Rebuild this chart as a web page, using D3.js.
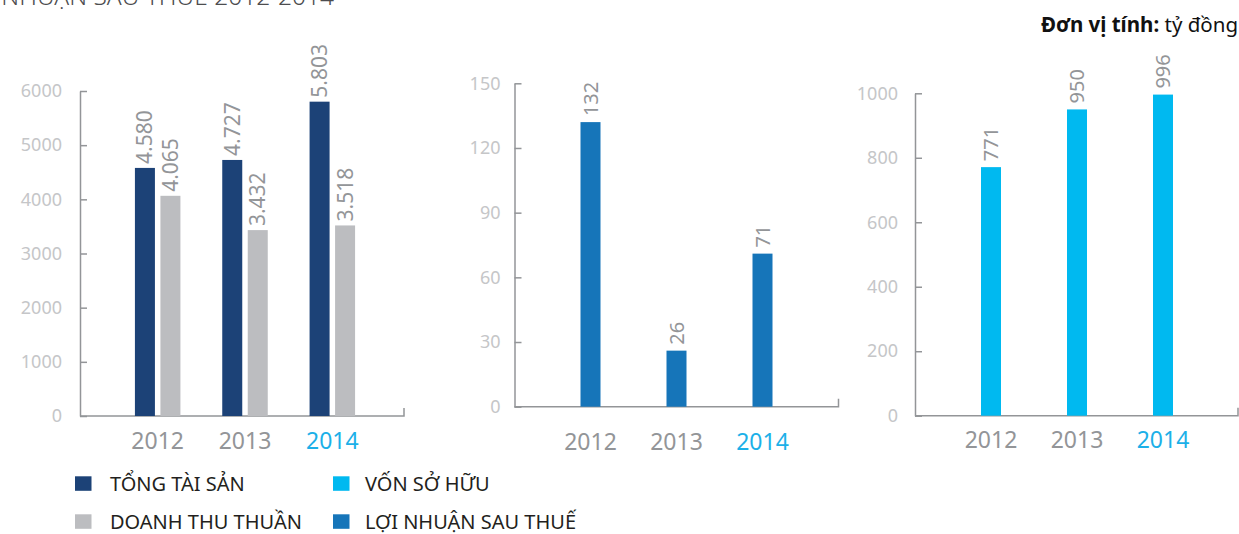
<!DOCTYPE html>
<html>
<head>
<meta charset="utf-8">
<script src="https://cdn.jsdelivr.net/npm/d3@7"></script>
<style>
  html, body { margin: 0; padding: 0; background: #fff; }
  svg { display: block; }
</style>
</head>
<body>
<svg id="chart" width="1239" height="534"></svg>
<script>
// ---- data ----
const years = ["2012", "2013", "2014"];
const totalAssets = [4580, 4727, 5803];      // TỔNG TÀI SẢN
const netRevenue = [4065, 3432, 3518];       // DOANH THU THUẦN
const profitAfterTax = [132, 26, 71];        // LỢI NHUẬN SAU THUẾ
const equity = [771, 950, 996];              // VỐN SỞ HỮU
const ticksAssets = [0, 1000, 2000, 3000, 4000, 5000, 6000];
const ticksProfit = [0, 30, 60, 90, 120, 150];
const ticksEquity = [0, 200, 400, 600, 800, 1000];
const legendLabels = ["TỔNG TÀI SẢN", "VỐN SỞ HỮU", "DOANH THU THUẦN", "LỢI NHUẬN SAU THUẾ"];
const titleText = "LỢI NHUẬN SAU THUẾ 2012-2014";
const unitBold = "Đơn vị tính:";
const unitText = " tỷ đồng";

// ---- styles ----
const C = {
  navy: "#1c4277",
  gray: "#bcbdc0",
  blue: "#1675b9",
  cyan: "#00b9f0",
  axis: "#939598",
  tick: "#c5c6c8",
  year: "#939598",
  yearHi: "#1cb0e8",
  label: "#939598"
};
const FONT = "'Noto Sans', 'Open Sans', sans-serif";
const NARROW = "'Liberation Sans Narrow', 'Arial Narrow', 'Noto Sans', sans-serif";

const svg = d3.select("#chart");
const vfmt = d3.formatLocale({ decimal: ",", thousands: ".", grouping: [3], currency: ["", ""] }).format(",d");

function panel(cfg) {
  const g = svg.append("g").attr("transform", `translate(${cfg.x0},0)`);
  const y = d3.scaleLinear().domain([0, cfg.max]).range([cfg.yBase, cfg.yTop]);
  const x = d3.scaleBand().domain(years).range(cfg.band).paddingInner(0).paddingOuter(0);

  // y axis
  const ya = g.append("g").call(
    d3.axisLeft(y).tickValues(cfg.ticks).tickFormat(d3.format("d"))
      .tickSizeInner(-7).tickSizeOuter(0).tickPadding(cfg.tickPad)
  );
  ya.selectAll("path, line").attr("stroke", C.axis).attr("stroke-width", 1.5);
  ya.selectAll("text").attr("fill", C.tick).style("font-family", FONT).style("font-size", "18px");

  // baseline with end tick
  g.append("path")
    .attr("d", `M0,${cfg.yBase}H${cfg.width}V${cfg.yBase - 8}`)
    .attr("fill", "none").attr("stroke", C.axis).attr("stroke-width", 1.5);

  // x axis labels
  const xa = g.append("g").attr("transform", `translate(0,${cfg.yBase})`)
    .call(d3.axisBottom(x).tickSize(0).tickPadding(cfg.yearPad));
  xa.select(".domain").remove();
  xa.selectAll("text")
    .attr("fill", (d, i) => i === years.length - 1 ? C.yearHi : C.year)
    .style("font-family", FONT).style("font-size", "23px");

  // bars
  const n = cfg.series.length;
  const groupW = n * cfg.barW + (n - 1) * cfg.gap;
  cfg.series.forEach((s, si) => {
    const bx = i => x(years[i]) + x.bandwidth() / 2 - groupW / 2 + si * (cfg.barW + cfg.gap);
    const gs = g.append("g");
    gs.selectAll("rect").data(s.values).join("rect")
      .attr("x", (d, i) => bx(i))
      .attr("width", cfg.barW)
      .attr("y", d => y(d))
      .attr("height", d => cfg.yBase - y(d))
      .attr("fill", s.color);
    gs.selectAll("text").data(s.values).join("text")
      .attr("transform", (d, i) => `translate(${bx(i) + cfg.barW / 2},${y(d) - cfg.labelGap}) rotate(-90)`)
      .attr("dy", "0.36em")
      .attr("text-anchor", "start")
      .attr("fill", C.label)
      .style("font-family", NARROW).style("font-size", cfg.labelSize + "px")
      .text(d => vfmt(d));
  });
}

panel({
  x0: 80, width: 324, yBase: 416, yTop: 91, max: 6000, ticks: ticksAssets, tickPad: 18,
  band: [34, 296], yearPad: 17, barW: 20, gap: 5.5, labelGap: 4, labelSize: 21,
  series: [{ values: totalAssets, color: C.navy }, { values: netRevenue, color: C.gray }]
});
panel({
  x0: 514.5, width: 324, yBase: 406.7, yTop: 83.3, max: 150, ticks: ticksProfit, tickPad: 14,
  band: [33, 291], yearPad: 26.5, barW: 20, gap: 0, labelGap: 6, labelSize: 20,
  series: [{ values: profitAfterTax, color: C.blue }]
});
panel({
  x0: 915, width: 323, yBase: 415.7, yTop: 93.3, max: 1000, ticks: ticksEquity, tickPad: 17,
  band: [33, 291], yearPad: 16, barW: 20, gap: 0, labelGap: 6, labelSize: 20,
  series: [{ values: equity, color: C.cyan }]
});

// title (cut at top-left)
svg.append("text")
  .attr("x", 334).attr("y", 5).attr("text-anchor", "end")
  .attr("fill", "#4d4d4f")
  .style("font-family", FONT).style("font-weight", 300).style("font-size", "24.5px")
  .text(titleText);

// unit
const u = svg.append("text").attr("x", 1238).attr("y", 32).attr("text-anchor", "end")
  .attr("fill", "#111").style("font-family", FONT).style("font-size", "20.5px");
u.append("tspan").style("font-weight", 700).text(unitBold);
u.append("tspan").text(unitText);

// legend
const legendColors = [C.navy, C.cyan, C.gray, C.blue];
const lx = d3.scaleOrdinal().domain([0, 1]).range([75, 333]);
const ly = d3.scaleOrdinal().domain([0, 1]).range([476.3, 514.3]);
const lg = svg.append("g").selectAll("g").data(legendLabels).join("g")
  .attr("transform", (d, i) => `translate(${lx(i % 2)},${ly(Math.floor(i / 2))})`);
lg.append("rect").attr("width", 16.5).attr("height", 14.5).attr("fill", (d, i) => legendColors[i]);
lg.append("text")
  .attr("x", (d, i) => i % 2 === 0 ? 35 : 32).attr("y", 14.5)
  .attr("fill", "#231f20")
  .style("font-family", FONT).style("font-size", "20px")
  .text(d => d);
</script>
</body>
</html>
